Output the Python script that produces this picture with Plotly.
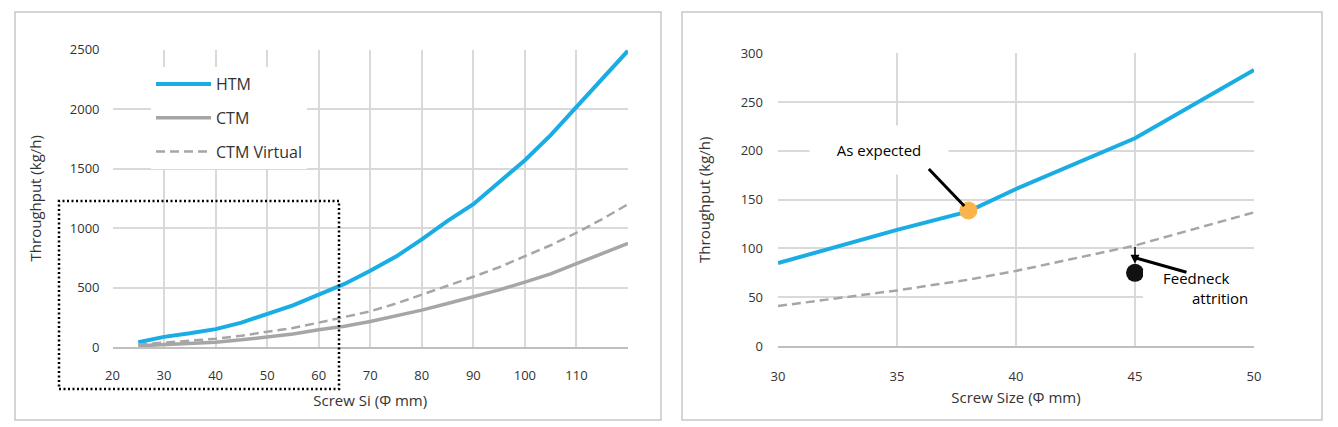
import plotly.graph_objects as go

# ---------------- data ----------------
# Left chart: throughput vs screw size
size_left = [25, 30, 35, 40, 45, 50, 55, 60, 65, 70, 75, 80, 85, 90, 95, 100, 105, 110, 115, 120]
htm_left = [40, 85, 115, 150, 205, 275, 350, 440, 530, 640, 760, 905, 1060, 1200, 1380, 1570, 1780, 2020, 2260, 2490]
ctm_left = [10, 18, 28, 40, 60, 85, 110, 145, 175, 215, 260, 310, 365, 420, 480, 545, 615, 700, 785, 870]
ctm_virtual_left = [20, 35, 50, 70, 95, 125, 160, 205, 250, 300, 365, 440, 510, 590, 670, 760, 855, 960, 1075, 1200]

left_xticks = [20, 30, 40, 50, 60, 70, 80, 90, 100, 110, 120]
left_xticklabels = ["20", "30", "40", "50", "60", "70", "80", "90", "100", "110", ""]
left_yticks = [0, 500, 1000, 1500, 2000, 2500]

# Right chart: zoomed region
size_right = [30, 35, 38, 40, 45, 50]
htm_right = [85, 119, 138, 161, 213, 283]
ctm_virtual_right = [41, 57, 68, 77, 103, 137]

right_xticks = [30, 35, 40, 45, 50]
right_yticks = [0, 50, 100, 150, 200, 250, 300]

expected_x, expected_y = [38], [139]
attrition_x, attrition_y = [45], [75]
attrition_from_y = 103   # point on the virtual curve at 45 mm
attrition_line_y = 90.5  # start of the callout leader

# ---------------- styling ----------------
W, H = 1338, 427
BLUE = "#1AADE4"
GRAY = "#A6A6A6"
GRID = "#D9D9D9"
TXT = "#333333"
FONT = "Open Sans"


def px(x):
    return x / W


def py(y):
    return 1 - y / H


fig = go.Figure()

fig.add_trace(go.Scatter(x=size_left, y=htm_left, mode="lines", name="HTM",
                         line=dict(color=BLUE, width=4), legendgroup="a",
                         xaxis="x", yaxis="y"))
fig.add_trace(go.Scatter(x=size_left, y=ctm_left, mode="lines", name="CTM",
                         line=dict(color=GRAY, width=3.5), legendgroup="b",
                         xaxis="x", yaxis="y"))
fig.add_trace(go.Scatter(x=size_left, y=ctm_virtual_left, mode="lines", name="CTM Virtual",
                         line=dict(color=GRAY, width=2.5, dash="9px,5px"), legendgroup="c",
                         xaxis="x", yaxis="y"))

fig.add_trace(go.Scatter(x=size_right, y=htm_right, mode="lines", showlegend=False,
                         line=dict(color=BLUE, width=4), xaxis="x2", yaxis="y2"))
fig.add_trace(go.Scatter(x=size_right, y=ctm_virtual_right, mode="lines", showlegend=False,
                         line=dict(color=GRAY, width=2.5, dash="9px,5px"), xaxis="x2", yaxis="y2"))
fig.add_trace(go.Scatter(x=expected_x, y=expected_y, mode="markers", showlegend=False,
                         marker=dict(color="#F9B54C", size=18), xaxis="x2", yaxis="y2"))
fig.add_trace(go.Scatter(x=attrition_x, y=attrition_y, mode="markers", showlegend=False,
                         marker=dict(color="#111111", size=18), xaxis="x2", yaxis="y2"))

axis_common = dict(showgrid=True, gridcolor=GRID, gridwidth=1.5, zeroline=False,
                   tickfont=dict(family=FONT, size=13, color=TXT), ticks="",
                   title_font=dict(family=FONT, size=15, color=TXT), fixedrange=True,
                   automargin=False)

fig.update_layout(
    width=W, height=H, autosize=False,
    margin=dict(l=0, r=0, t=0, b=0, autoexpand=False),
    paper_bgcolor="white", plot_bgcolor="white",
    font=dict(family=FONT, color=TXT),
    xaxis=dict(domain=[px(112.5), px(628)], range=[20, 120], tickmode="array",
               tickvals=left_xticks, ticktext=left_xticklabels,
               showline=True, linecolor="#BFBFBF", linewidth=1.5,
               ticklabelstandoff=16, title=dict(text="Screw Si (Φ mm)", standoff=12),
               anchor="y", **axis_common),
    yaxis=dict(domain=[py(347), py(49.5)], range=[0, 2500], tickmode="array",
               tickvals=left_yticks, ticklabelstandoff=12,
               title=dict(text="Throughput (kg/h)", standoff=24), anchor="x", **axis_common),
    xaxis2=dict(domain=[px(778), px(1254)], range=[30, 50], tickmode="array",
                tickvals=right_xticks, showline=True, linecolor="#BFBFBF", linewidth=1.5,
                ticklabelstandoff=18, title=dict(text="Screw Size (Φ mm)", standoff=8),
                anchor="y2", **axis_common),
    yaxis2=dict(domain=[py(346), py(53.4)], range=[0, 300], tickmode="array",
                tickvals=right_yticks, ticklabelstandoff=14,
                title=dict(text="Throughput (kg/h)", standoff=26), anchor="x2", **axis_common),
    legend=dict(x=px(151), y=py(67), xanchor="left", yanchor="top",
                bgcolor="white", font=dict(family=FONT, size=16, color=TXT),
                tracegroupgap=10, itemwidth=55),
    showlegend=True,
)

# panel borders and dotted highlight box
fig.add_shape(type="rect", xref="paper", yref="paper", x0=px(15), x1=px(661), y0=py(420), y1=py(12),
              line=dict(color="#C8C8C8", width=1.5), layer="below")
fig.add_shape(type="rect", xref="paper", yref="paper", x0=px(682), x1=px(1322), y0=py(420), y1=py(12),
              line=dict(color="#C8C8C8", width=1.5), layer="below")
fig.add_shape(type="rect", xref="paper", yref="paper", x0=px(59), x1=px(339), y0=py(389), y1=py(201),
              line=dict(color="black", width=2.5, dash="2px,2.5px"), layer="above")

# "As expected" callout
fig.add_annotation(xref="paper", yref="paper", x=px(879), y=py(150), text="As expected",
                   showarrow=False, bgcolor="white", width=136, height=46,
                   font=dict(family=FONT, size=15, color="black"))
fig.add_annotation(xref="x2", yref="y2", x=expected_x[0], y=expected_y[0], text="",
                   showarrow=True, arrowhead=0, arrowwidth=3, arrowcolor="black",
                   ax=-41, ay=-43, standoff=6)

# "Feedneck attrition" callout
fig.add_shape(type="rect", xref="paper", yref="paper", x0=px(1143), x1=px(1300), y0=py(332), y1=py(270),
              fillcolor="white", line=dict(width=0), layer="above")
fig.add_annotation(xref="paper", yref="paper", x=px(1161), y=py(290), xanchor="left",
                   text="Feedneck", showarrow=False,
                   font=dict(family=FONT, size=15, color="black"))
fig.add_annotation(xref="paper", yref="paper", x=px(1250), y=py(310), xanchor="right",
                   text="attrition", showarrow=False,
                   font=dict(family=FONT, size=15, color="black"))
fig.add_annotation(xref="x2", yref="y2", x=attrition_x[0], y=attrition_y[0], text="",
                   axref="x2", ayref="y2", ax=attrition_x[0], ay=attrition_from_y,
                   showarrow=True, arrowhead=2, arrowsize=1.2, arrowwidth=1.5,
                   arrowcolor="black", standoff=9)
fig.add_annotation(xref="x2", yref="y2", x=attrition_x[0], y=attrition_line_y, text="",
                   showarrow=True, arrowhead=0, arrowwidth=3, arrowcolor="black",
                   ax=53, ay=15, standoff=1)

fig.write_html(
    "out.html",
    config={"displayModeBar": False},
    post_script="document.body.style.margin='0';document.body.style.overflow='hidden';",
)
